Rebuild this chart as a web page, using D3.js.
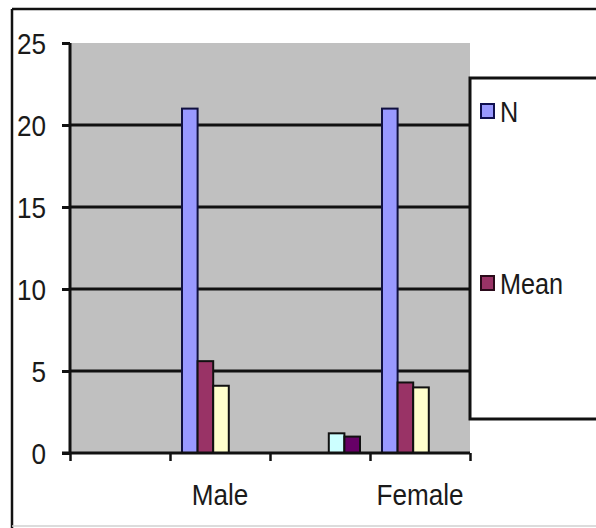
<!DOCTYPE html>
<html>
<head>
<meta charset="utf-8">
<script src="https://cdn.jsdelivr.net/npm/d3@7"></script>
<style>
  html, body { margin: 0; padding: 0; background: #fff; }
  svg { display: block; }
  text { font-family: "Liberation Sans", Arial, sans-serif; fill: #1a1a1a; }
</style>
</head>
<body>
<svg id="chart" width="596" height="528"></svg>
<script>
// Category slots along the x axis (unlabelled slots are left blank)
const categories = ["", "Male", "", "Female"];

// One values array per series, one entry per category slot (null = no bar)
const seriesNames = ["N", "Mean", "Series 3", "Series 4", "Series 5"];
const nValues      = [null, 21, null, 21];
const meanValues   = [null, 5.6, null, 4.3];
const series3Values = [null, 4.1, null, 4.0];
const series4Values = [null, null, 1.2, null];
const series5Values = [null, null, 1.0, null];
const seriesValues = [nValues, meanValues, series3Values, series4Values, series5Values];
const seriesColors = ["#9999ff", "#993366", "#ffffcc", "#ccffff", "#660066"];

// Only the first two entries fit inside the legend box
const legendEntries = 2;

const yTicks = [0, 5, 10, 15, 20, 25];

const svg = d3.select("#chart");
const plot = { left: 70, right: 470, top: 43, bottom: 453 };
const textScaleX = 0.87;

// Chart area frame
svg.append("line").attr("x1", 12).attr("y1", 9).attr("x2", 596).attr("y2", 9)
  .attr("stroke", "#111").attr("stroke-width", 2.5);
svg.append("line").attr("x1", 12).attr("y1", 9).attr("x2", 12).attr("y2", 528)
  .attr("stroke", "#111").attr("stroke-width", 2.5);
svg.append("line").attr("x1", 12).attr("y1", 526).attr("x2", 596).attr("y2", 526)
  .attr("stroke", "#d0d0d0").attr("stroke-width", 1.5);

// Scales
const x = d3.scaleBand().domain(d3.range(categories.length))
  .range([plot.left, plot.right]).padding(0);
const xInner = d3.scaleBand().domain(d3.range(seriesNames.length))
  .range([12, 90]).padding(0);
const y = d3.scaleLinear().domain([0, 25]).range([plot.bottom, plot.top]);

// Plot area background
svg.append("rect")
  .attr("x", plot.left).attr("y", plot.top)
  .attr("width", plot.right - plot.left).attr("height", plot.bottom - plot.top)
  .attr("fill", "#c0c0c0");

// Horizontal gridlines
svg.append("g").selectAll("line")
  .data(yTicks.filter(t => t > 0 && t < 25))
  .join("line")
  .attr("x1", plot.left).attr("x2", plot.right)
  .attr("y1", d => y(d)).attr("y2", d => y(d))
  .attr("stroke", "#111").attr("stroke-width", 3);

// Bars
const barData = [];
seriesValues.forEach((vals, si) => {
  vals.forEach((v, ci) => {
    if (v != null) barData.push({ si, ci, v });
  });
});
svg.append("g").selectAll("rect")
  .data(barData)
  .join("rect")
  .attr("x", d => x(d.ci) + xInner(d.si))
  .attr("y", d => y(d.v))
  .attr("width", xInner.bandwidth())
  .attr("height", d => y(0) - y(d.v))
  .attr("fill", d => seriesColors[d.si])
  .attr("stroke", d => d.si === 0 ? "#101040" : "#111")
  .attr("stroke-width", 2);

// Y axis
const yAxis = svg.append("g")
  .attr("transform", `translate(${plot.left},0)`)
  .call(d3.axisLeft(y).tickValues(yTicks).tickSize(8).tickFormat(""));
yAxis.select(".domain").attr("stroke", "#111").attr("stroke-width", 3)
  .attr("d", `M0,${plot.top}V${plot.bottom}`);
yAxis.selectAll(".tick line").attr("stroke", "#111").attr("stroke-width", 3);

svg.append("g").selectAll("text")
  .data(yTicks)
  .join("text")
  .attr("transform", d => `translate(46,${y(d) + 11}) scale(${textScaleX},1)`)
  .attr("text-anchor", "end")
  .attr("font-size", 30)
  .text(d => d);

// X axis
const xEdges = d3.range(categories.length + 1).map(i =>
  i < categories.length ? x(i) : plot.right);
const xAxis = svg.append("g")
  .attr("transform", `translate(0,${plot.bottom})`)
  .call(d3.axisBottom(d3.scaleLinear().domain([plot.left, plot.right]).range([plot.left, plot.right]))
    .tickValues(xEdges).tickSize(8).tickFormat(""));
xAxis.select(".domain").attr("stroke", "#111").attr("stroke-width", 3)
  .attr("d", `M${plot.left - 8},0H${plot.right}`);
xAxis.selectAll(".tick line").attr("stroke", "#111").attr("stroke-width", 2.5);

svg.append("g").selectAll("text")
  .data(categories.map((c, i) => ({ c, i })).filter(d => d.c))
  .join("text")
  .attr("transform", d => `translate(${x(d.i) + x.bandwidth() / 2},505) scale(${textScaleX},1)`)
  .attr("text-anchor", "middle")
  .attr("font-size", 30)
  .text(d => d.c);

// Legend
svg.append("rect")
  .attr("x", 470).attr("y", 78).attr("width", 140).attr("height", 341)
  .attr("fill", "#fff").attr("stroke", "#111").attr("stroke-width", 3);

const legendY = [111, 283];
const legend = svg.append("g").selectAll("g")
  .data(seriesNames.slice(0, legendEntries))
  .join("g")
  .attr("transform", (d, i) => `translate(480,${legendY[i]})`);
legend.append("rect")
  .attr("x", 1).attr("y", -7).attr("width", 13).attr("height", 14)
  .attr("fill", (d, i) => seriesColors[i])
  .attr("stroke", (d, i) => i === 0 ? "#101050" : "#2a0a1a")
  .attr("stroke-width", 2);
legend.append("text")
  .attr("transform", `translate(20,11) scale(${textScaleX},1)`)
  .attr("font-size", 29)
  .text(d => d);
</script>
</body>
</html>
